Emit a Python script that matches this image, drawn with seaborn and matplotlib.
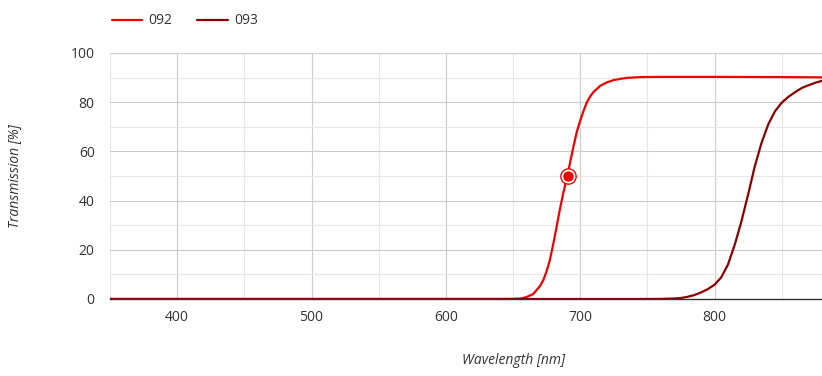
import matplotlib
matplotlib.use("Agg")
import matplotlib.pyplot as plt
from matplotlib.ticker import MultipleLocator
import seaborn as sns
import pandas as pd

# ---- data ----
wl_092 = [350, 400, 500, 600, 640, 650, 655, 657.5, 660, 665, 670, 672.5, 675, 677.5,
          680, 682.5, 685, 687.5, 690, 692.5, 695, 697.5, 700, 702.5, 705, 707.5,
          710, 715, 720, 725, 730, 735, 745, 760, 800, 850, 880]
t_092 = [0, 0, 0, 0, 0, 0.05, 0.15, 0.4, 0.8, 2, 5.2, 7.6, 11.3, 16,
         22.5, 29.5, 36.8, 43.3, 49, 55.5, 62, 68, 72.5, 76.5, 80, 82.4,
         84.2, 86.7, 88.1, 89, 89.5, 89.9, 90.2, 90.3, 90.3, 90.2, 90.1]

wl_093 = [350, 400, 500, 600, 700, 750, 760, 770, 775, 780, 785, 790, 795, 800, 805,
          810, 815, 820, 825, 830, 835, 840, 845, 850, 855, 860, 865, 870, 875, 880]
t_093 = [0, 0, 0, 0, 0, 0, 0.05, 0.2, 0.4, 0.9, 1.6, 2.7, 4, 5.8, 8.8,
         14, 22, 31.5, 42.5, 54, 63.5, 71, 76.3, 79.8, 82.2, 84.1, 85.8, 86.9, 87.9, 88.7]

marker_wl = [691]
marker_t = [50]

series_names = ["092", "093"]
series_colors = ["#f00000", "#8c0000"]

x_ticks = [400, 500, 600, 700, 800]
y_ticks = [0, 20, 40, 60, 80, 100]

df = pd.concat([
    pd.DataFrame({"Wavelength": wl_092, "T": t_092, "Filter": series_names[0]}),
    pd.DataFrame({"Wavelength": wl_093, "T": t_093, "Filter": series_names[1]}),
])

sns.set_theme(style="white")
plt.rcParams["font.family"] = ["Open Sans", "DejaVu Sans"]

fig = plt.figure(figsize=(8.22, 3.76), dpi=100)
ax = fig.add_axes([110 / 822, 1 - 299 / 376, 712 / 822, 246 / 376])

sns.lineplot(data=df, x="Wavelength", y="T", hue="Filter",
             palette=dict(zip(series_names, series_colors)),
             linewidth=1.6, ax=ax, legend=False, estimator=None, sort=False,
             zorder=3)

# highlighted point
ax.plot(marker_wl, marker_t, "o", ms=11, mfc="white", mec=series_colors[0],
        mew=1.0, zorder=4)
ax.plot(marker_wl, marker_t, "o", ms=6.5, mfc=series_colors[0],
        mec=series_colors[0], zorder=5)

ax.set_xlim(350, 880)
ax.set_ylim(0, 100)
ax.set_xticks(x_ticks)
ax.set_yticks(y_ticks)
ax.xaxis.set_minor_locator(MultipleLocator(50))
ax.yaxis.set_minor_locator(MultipleLocator(10))
ax.grid(which="major", color="#cccccc", linewidth=0.8)
ax.grid(which="minor", color="#e6e6e6", linewidth=0.8)
ax.set_axisbelow(True)

for s in ["top", "right", "left"]:
    ax.spines[s].set_visible(False)
ax.spines["bottom"].set_color("#333333")
ax.spines["bottom"].set_linewidth(1.0)
ax.spines["bottom"].set_zorder(6)

ax.tick_params(axis="both", which="both", length=0, labelsize=10,
               labelcolor="#333333")
ax.tick_params(axis="y", pad=11)
ax.tick_params(axis="x", pad=8)

ax.set_xlabel("Wavelength [nm]", fontsize=10, style="italic", color="#333333")
ax.set_ylabel("Transmission [%]", fontsize=10, style="italic", color="#333333")
ax.xaxis.set_label_coords((513 - 110) / 712, (299 - 360) / 246)
ax.yaxis.set_label_coords((15 - 110) / 712, 0.5)
ax.xaxis.label.set_va("center")
ax.yaxis.label.set_va("center")

handles = [plt.Line2D([], [], color=c, linewidth=1.6) for c in series_colors]
fig.legend(handles, series_names, loc="center left",
           bbox_to_anchor=(99 / 822, 1 - 21 / 376), ncol=2, frameon=False,
           fontsize=10, handlelength=2.2, handletextpad=0.45,
           columnspacing=1.8, labelcolor="#333333")

fig.savefig("out.png", dpi=100)
